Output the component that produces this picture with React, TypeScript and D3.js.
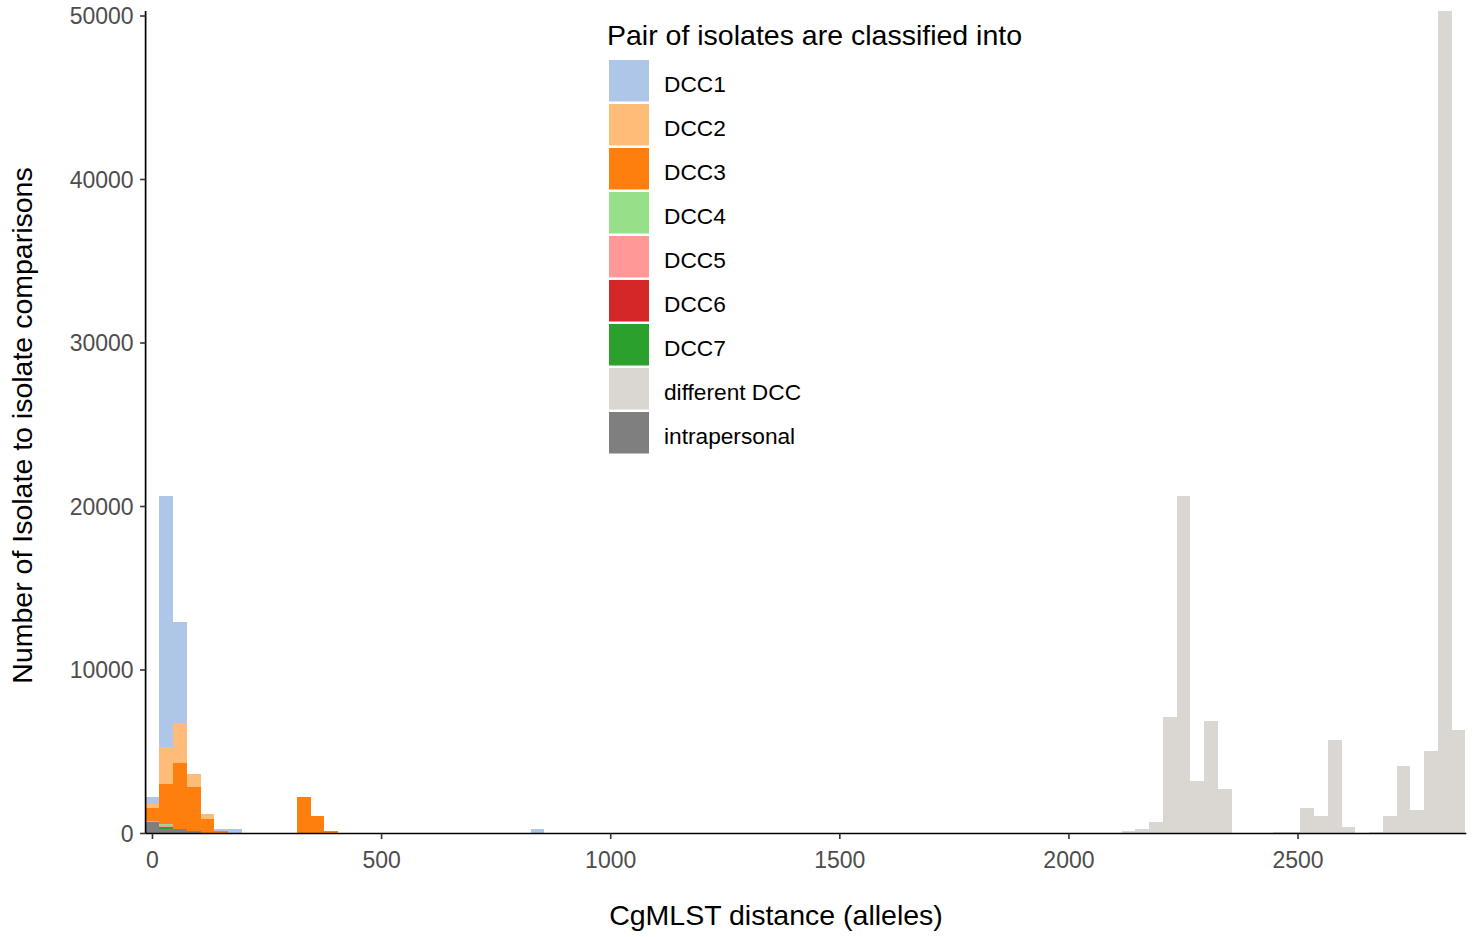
import React from "react";
import * as d3 from "d3";

// ---- data (bin centre in alleles, count) ----
const BIN_WIDTH = 30;
const X_MIN = -15;
const X_MAX = 2865;

const SERIES = ["DCC1", "DCC2", "DCC3", "DCC4", "DCC5", "DCC6", "DCC7", "different DCC", "intrapersonal"];
const COLORS = ["#AEC7E8", "#FFBB78", "#FF7F0E", "#98DF8A", "#FF9896", "#D62728", "#2CA02C", "#DAD7D2", "#7F7F7F"];

const DCC1: [number, number][] = [[0, 409], [30, 15352], [60, 6178], [150, 125], [180, 275], [840, 275]];
const DCC2: [number, number][] = [[0, 263], [30, 2262], [60, 2446], [90, 795], [120, 306]];
const DCC3: [number, number][] = [[0, 814], [30, 2447], [60, 4037], [90, 2694], [120, 887], [150, 150], [330, 2232], [360, 1070], [390, 150]];
const DCC4: [number, number][] = [[30, 61]];
const DCC5: [number, number][] = [[0, 45], [30, 104]];
const DCC6: [number, number][] = [];
const DCC7: [number, number][] = [[30, 141]];
const DIFFERENT: [number, number][] = [
  [2130, 170], [2160, 294], [2190, 685], [2220, 7144], [2250, 20642], [2280, 3229], [2310, 6900], [2340, 2722],
  [2460, 80], [2490, 80], [2520, 1560], [2550, 1070], [2580, 5719], [2610, 398], [2670, 80], [2700, 1070],
  [2730, 4128], [2760, 1437], [2790, 5046], [2820, 50306], [2850, 6330],
];
const INTRA: [number, number][] = [[0, 703], [30, 275], [60, 275], [90, 150]];

const SERIES_DATA = [DCC1, DCC2, DCC3, DCC4, DCC5, DCC6, DCC7, DIFFERENT, INTRA];

const X_TICKS = [0, 500, 1000, 1500, 2000, 2500];
const Y_TICKS = [0, 10000, 20000, 30000, 40000, 50000];

const LEGEND_TITLE = "Pair of isolates are classified into";
const X_TITLE = "CgMLST distance (alleles)";
const Y_TITLE = "Number of Isolate to isolate comparisons";

const FONT = "Liberation Sans, Arial, Helvetica, sans-serif";

export default function App() {
  const W = 1480, H = 937;
  const left = 145.6, right = 1465.3, top = 11, bottom = 833.5;

  // build bin table
  const centers = d3.range(X_MIN + BIN_WIDTH / 2, X_MAX, BIN_WIDTH);
  const table = centers.map((c) => {
    const row: any = { c };
    SERIES.forEach((s, i) => {
      const hit = SERIES_DATA[i].find((d) => d[0] === c);
      row[s] = hit ? hit[1] : 0;
    });
    return row;
  });
  const stackOrder = [...SERIES].reverse(); // bottom first: intrapersonal ... DCC1 on top
  const stacked = d3.stack<any>().keys(stackOrder)(table);
  const maxY = d3.max(table, (r: any) => d3.sum(SERIES, (s) => r[s])) as number;

  const x = d3.scaleLinear().domain([X_MIN, X_MAX]).range([left, right]);
  const y = d3.scaleLinear().domain([0, maxY]).range([bottom, top]);

  const legendX = 609, legendY0 = 60, pitch = 44;

  return (
    <svg width={W} height={H} style={{ position: "absolute", left: 0, top: 0, background: "#fff" }} fontFamily={FONT}>
      <rect x={0} y={0} width={W} height={H} fill="#fff" />
      {stacked.map((layer) => {
        const idx = SERIES.indexOf(layer.key);
        return (
          <g key={layer.key} fill={COLORS[idx]}>
            {layer.map((d, j) => {
              if (d[1] - d[0] <= 0) return null;
              const c = table[j].c;
              return (
                <rect
                  key={j}
                  x={x(c - BIN_WIDTH / 2)}
                  width={x(c + BIN_WIDTH / 2) - x(c - BIN_WIDTH / 2)}
                  y={y(d[1])}
                  height={y(d[0]) - y(d[1])}
                  shapeRendering="crispEdges"
                />
              );
            })}
          </g>
        );
      })}

      {/* axes */}
      <line x1={left} x2={left} y1={top} y2={bottom} stroke="#000" strokeWidth={1.7} />
      <line x1={left} x2={right + 1} y1={bottom} y2={bottom} stroke="#000" strokeWidth={1.7} />
      {Y_TICKS.map((t) => (
        <g key={t}>
          <line x1={left - 5.5} x2={left} y1={y(t)} y2={y(t)} stroke="#333" strokeWidth={1.6} />
          <text x={left - 12} y={y(t) + 8} textAnchor="end" fontSize={23} fill="#4D4D4D">
            {t}
          </text>
        </g>
      ))}
      {X_TICKS.map((t) => (
        <g key={t}>
          <line x1={x(t)} x2={x(t)} y1={bottom} y2={bottom + 5.5} stroke="#333" strokeWidth={1.6} />
          <text x={x(t)} y={bottom + 34} textAnchor="middle" fontSize={23} fill="#4D4D4D">
            {t}
          </text>
        </g>
      ))}

      {/* axis titles */}
      <text x={776} y={925} textAnchor="middle" fontSize={28.5} fill="#000">
        {X_TITLE}
      </text>
      <text transform={`translate(32,${425.5}) rotate(-90)`} textAnchor="middle" fontSize={28.5} fill="#000">
        {Y_TITLE}
      </text>

      {/* legend */}
      <text x={607} y={45} fontSize={28.5} fill="#000">
        {LEGEND_TITLE}
      </text>
      {SERIES.map((s, i) => (
        <g key={s}>
          <rect x={legendX} y={legendY0 + i * pitch} width={40} height={41.5} fill={COLORS[i]} />
          <text x={664} y={legendY0 + i * pitch + 31.5} fontSize={22.7} fill="#000">
            {s}
          </text>
        </g>
      ))}
    </svg>
  );
}
